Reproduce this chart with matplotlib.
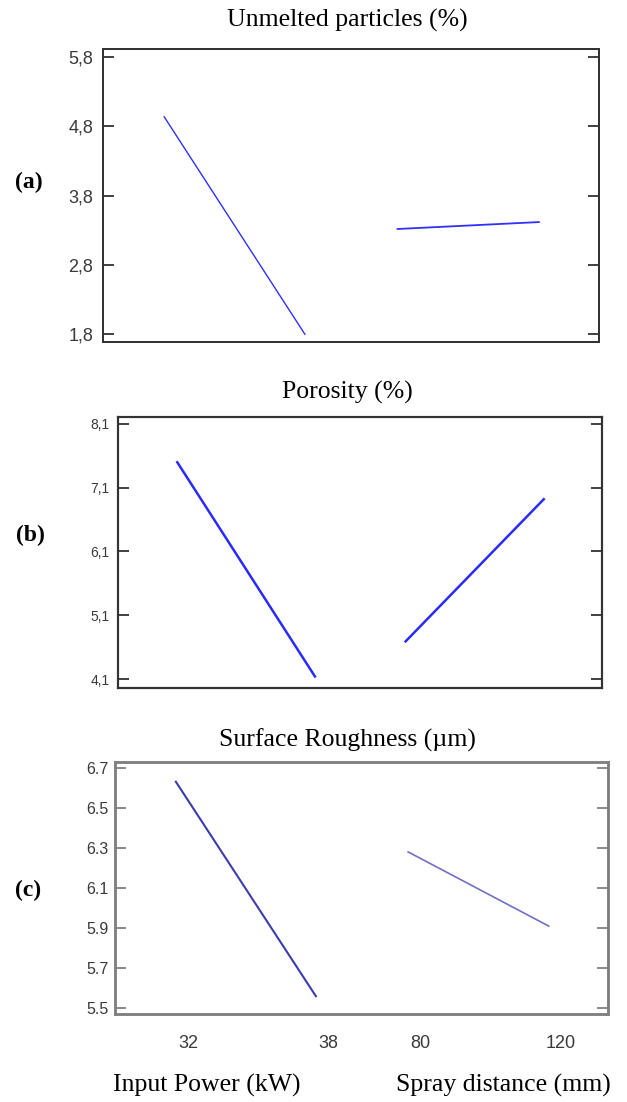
import matplotlib
matplotlib.use('Agg')
import matplotlib.pyplot as plt
from matplotlib.transforms import ScaledTranslation

# factor levels (x)
power = [32, 38]          # Input Power (kW)
distance = [80, 120]      # Spray distance (mm)

# responses
unmelted_power = [4.94, 1.80]
unmelted_dist = [3.32, 3.42]
porosity_power = [7.50, 4.14]
porosity_dist = [4.69, 6.92]
rough_power = [6.63, 5.56]
rough_dist = [6.28, 5.91]

titles = ['Unmelted particles (%)', 'Porosity (%)', 'Surface Roughness (\u00b5m)']
tags = ['(a)', '(b)', '(c)']
yticks_list = [[1.8, 2.8, 3.8, 4.8, 5.8],
               [4.1, 5.1, 6.1, 7.1, 8.1],
               [5.5, 5.7, 5.9, 6.1, 6.3, 6.5, 6.7]]
ylims = [(1.689, 5.92), (3.954, 8.215), (5.47, 6.73)]

# axes boxes in figure fraction
boxes = [[0.1646, 0.6897, 0.7904, 0.2659],
         [0.1876, 0.3754, 0.7732, 0.2465],
         [0.1837, 0.0796, 0.7866, 0.2292]]
title_y = [1 - 20 / 1102, 1 - 392 / 1102, 1 - 740 / 1102]
tag_x = [29 / 627, 30 / 627, 28 / 627]
tag_y = [1 - 182 / 1102, 1 - 535 / 1102, 1 - 890 / 1102]

styles = [dict(left=('#3030ff', 1.0), right=('#3030ff', 1.3), spine='#333333', w=1.4, lsize=13, pad=7),
          dict(left=('#2a2aff', 1.8), right=('#2a2aff', 1.8), spine='#333333', w=1.5, lsize=10, pad=6),
          dict(left=('#3c3cb0', 1.5), right=('#7070c4', 1.2), spine='#808080', w=1.8, lsize=11.5, pad=5)]

data = [(unmelted_power, unmelted_dist),
        (porosity_power, porosity_dist),
        (rough_power, rough_dist)]

serif = ['Liberation Serif', 'DejaVu Serif']
sans = ['Liberation Sans', 'DejaVu Sans']

fig = plt.figure(figsize=(6.27, 11.02), dpi=100)
shift = ScaledTranslation(12 / 100, 0, fig.dpi_scale_trans)

for i in range(3):
    st = styles[i]
    ax = fig.add_axes(boxes[i])
    ax2 = ax.twiny()
    # put both factors side by side in the same box
    ax.set_xlim(29.4, 50.53)
    ax2.set_xlim(-3.37, 136.98)
    ax.plot(power, data[i][0], color=st['left'][0], lw=st['left'][1])
    ax2.plot(distance, data[i][1], color=st['right'][0], lw=st['right'][1])
    ax.set_ylim(*ylims[i])
    ax.set_yticks(yticks_list[i])
    ax.set_yticklabels([('%.1f' % v).replace('.', ',') if i < 2 else '%.1f' % v
                        for v in yticks_list[i]], family=sans)
    ax.tick_params(axis='y', direction='in', length=8, width=1.3, color=st['spine'],
                   left=True, right=True, labelsize=st['lsize'], labelcolor='#3a3a3a',
                   pad=st['pad'])
    for a in (ax, ax2):
        for s in a.spines.values():
            s.set_color(st['spine'])
            s.set_linewidth(st['w'])
    if i < 2:
        ax.set_xticks([])
        ax2.set_xticks([])
    else:
        ax.set_xticks(power)
        ax2.set_xticks(distance)
        ax2.xaxis.set_ticks_position('bottom')
        ax2.xaxis.set_label_position('bottom')
        for a in (ax, ax2):
            a.tick_params(axis='x', length=0, labelsize=13, labelcolor='#3a3a3a', pad=15)
            for lab in a.get_xticklabels():
                lab.set_family(sans)
                lab.set_transform(lab.get_transform() + shift)
    fig.text(347 / 627, title_y[i], titles[i], ha='center', va='center',
             family=serif, fontsize=18.5)
    fig.text(tag_x[i], tag_y[i], tags[i], ha='center', va='center',
             family=serif, fontsize=17, fontweight='bold')

fig.text(207 / 627, 1 - 1085 / 1102, 'Input Power (kW)', ha='center', va='center',
         family=serif, fontsize=18.5)
fig.text(503 / 627, 1 - 1085 / 1102, 'Spray distance (mm)', ha='center', va='center',
         family=serif, fontsize=18.5)

fig.savefig('out.png', dpi=100)
